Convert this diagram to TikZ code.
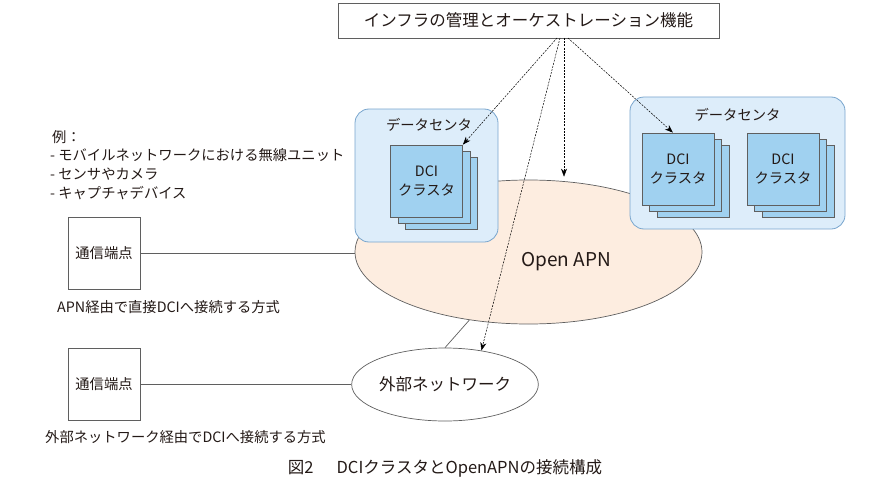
\documentclass[tikz,border=0pt]{standalone}
\usepackage{fontspec}
\setmainfont{Noto Sans CJK JP}
\usetikzlibrary{arrows.meta,shapes.geometric}

\definecolor{dcfill}{RGB}{221,237,250}
\definecolor{dcline}{RGB}{120,165,205}
\definecolor{dcifill}{RGB}{160,209,240}
\definecolor{apnfill}{RGB}{253,237,224}
\definecolor{linegray}{RGB}{95,95,95}
\definecolor{inkblack}{RGB}{35,25,22}

\tikzset{
  dcbox/.style={draw=dcline, fill=dcfill, rounded corners=14pt, line width=0.8pt, inner sep=0pt},
  dcibox/.style={draw=linegray, fill=dcifill, line width=0.8pt, minimum width=72pt, minimum height=72pt,
    inner sep=0pt, align=center, font=\fontsize{14.3}{19}\selectfont},
  termbox/.style={draw=linegray, fill=white, line width=0.8pt, minimum width=72pt, minimum height=72pt,
    inner sep=0pt, font=\fontsize{14.3}{17}\selectfont},
  ctrlarrow/.style={-{Stealth[length=8pt,width=6pt,inset=2.5pt]}, line width=0.5pt, dash pattern=on 2pt off 1.2pt},
  link/.style={draw=linegray, line width=0.7pt},
  txt/.style={font=\fontsize{14.3}{17}\selectfont, inner sep=0pt},
}

\begin{document}
\begin{tikzpicture}[x=1pt, y=-1pt, text=inkblack]
    \useasboundingbox (0,0) rectangle (890,500);

    % Open APN cloud
    \node[ellipse, draw=linegray, fill=apnfill, line width=0.7pt, minimum width=347pt,
      minimum height=144pt, inner sep=0pt] (apn) at (528.5,252) {};
    \node[font=\fontsize{19}{22}\selectfont] (apnlabel) at (566,262) {Open APN};

    % Left data center
    \node[dcbox, minimum width=143pt, minimum height=133pt] (dcL) at (426.5,175.5) {};
    \node[txt] (dcLlabel) at (429,125) {データセンタ};
    \node[dcibox] (dciLc) at (441.5,193) {};
    \node[dcibox] (dciLb) at (434,187) {};
    \node[dcibox] (dciLa) at (426.5,181) {DCI\\クラスタ};

    % Right data center with two clusters
    \node[dcbox, minimum width=215pt, minimum height=132pt] (dcR) at (737.5,163) {};
    \node[txt] (dcRlabel) at (737.5,115) {データセンタ};
    \node[dcibox] (dciRc) at (693,181) {};
    \node[dcibox] (dciRb) at (685.5,175) {};
    \node[dcibox] (dciRa) at (678,169) {DCI\\クラスタ};
    \node[dcibox] (dciSc) at (798,181) {};
    \node[dcibox] (dciSb) at (790.5,175) {};
    \node[dcibox] (dciSa) at (783,169) {DCI\\クラスタ};

    % Orchestration box
    \node[draw=linegray, fill=white, line width=0.8pt, minimum width=381pt, minimum height=35pt,
      font=\fontsize{16.5}{20}\selectfont] (orch) at (528.5,20.5) {インフラの管理とオーケストレーション機能};
    \coordinate (s1) at (557,38);
    \coordinate (s2) at (560,38);
    \coordinate (s3) at (564,38);
    \coordinate (s4) at (568,38);

    % External network
    \node[ellipse, draw=linegray, fill=white, line width=0.7pt, minimum width=180pt, minimum height=73pt,
      inner sep=0pt, font=\fontsize{16.5}{20}\selectfont] (ext) at (445,384.5) {外部ネットワーク};

    % Control arrows from orchestration
    \draw[ctrlarrow] (s1) -- (dciLa.north east);
    \draw[ctrlarrow] (s2) -- (ext.43);
    \draw[ctrlarrow, shorten >=3pt] (s3) -- (s3 |- apn.north);
    \draw[ctrlarrow] (s4) -- (dciRa.98);

    % Terminals and their links
    \node[termbox] (termA) at (104,253) {通信端点};
    \node[termbox] (termB) at (104,384.5) {通信端点};
    \draw[link] (termA.east) -- (termA.east -| apn.west);
    \draw[link] (termB) -- (ext);
    \draw[link] (ext.north) -- (apn.229);

    % Example list and captions
    \node[txt, anchor=west] (exhead) at (52,137) {例：};
    \node[txt, anchor=west] (ex1) at (50,155) {- モバイルネットワークにおける無線ユニット};
    \node[txt, anchor=west] (ex2) at (50,174) {- センサやカメラ};
    \node[txt, anchor=west] (ex3) at (50,193) {- キャプチャデバイス};
    \node[txt, anchor=west] (capA) at (57,307) {APN経由で直接DCIへ接続する方式};
    \node[txt, anchor=west] (capB) at (45,437) {外部ネットワーク経由でDCIへ接続する方式};
    \node[font=\fontsize{16.5}{19}\selectfont, inner sep=0pt] (figcap) at (445,468)
      {図2\hspace{1.4em}DCIクラスタとOpenAPNの接続構成};
\end{tikzpicture}
\end{document}
